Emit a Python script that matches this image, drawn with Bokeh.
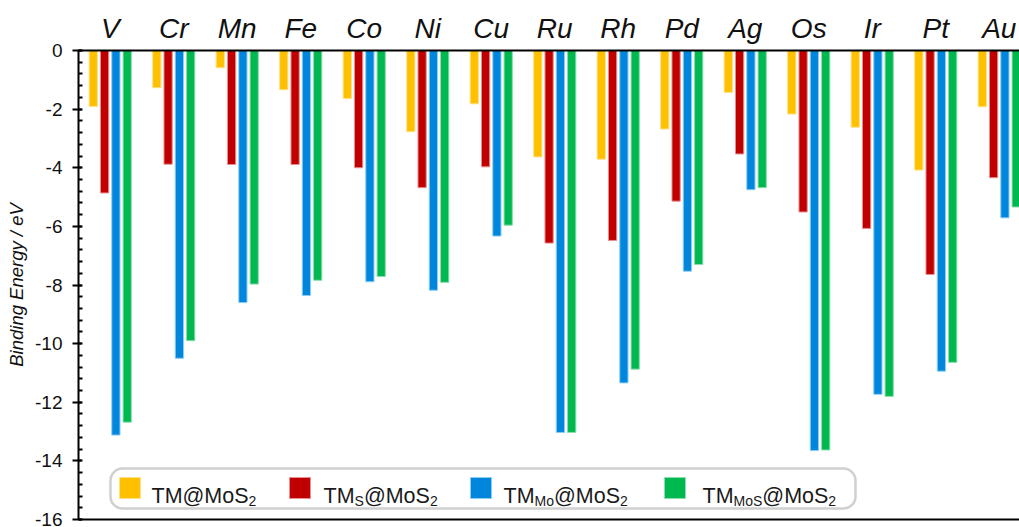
import numpy as np
from bokeh.plotting import figure
from bokeh.models import (LinearAxis, FixedTicker, SingleIntervalTicker,
                          Range1d, Label, BoxAnnotation)
from bokeh.embed import file_html
from bokeh.resources import INLINE

# ---------------- data ----------------
elements = ["V", "Cr", "Mn", "Fe", "Co", "Ni", "Cu", "Ru", "Rh", "Pd",
            "Ag", "Os", "Ir", "Pt", "Au"]
tm_mos2 = [-1.91, -1.27, -0.59, -1.34, -1.64, -2.77, -1.82, -3.63, -3.71,
           -2.68, -1.43, -2.17, -2.62, -4.08, -1.92]
tms_mos2 = [-4.86, -3.88, -3.89, -3.89, -4.00, -4.68, -3.97, -6.57, -6.48,
            -5.14, -3.53, -5.51, -6.07, -7.64, -4.34]
tmmo_mos2 = [-13.12, -10.50, -8.60, -8.36, -7.89, -8.18, -6.33, -13.03,
             -11.34, -7.53, -4.75, -13.65, -11.73, -10.94, -5.71]
tmmos_mos2 = [-12.68, -9.90, -7.97, -7.84, -7.71, -7.91, -5.96, -13.03,
              -10.87, -7.30, -4.68, -13.63, -11.80, -10.64, -5.34]
y_ticks = [0, -2, -4, -6, -8, -10, -12, -14, -16]

series = [tm_mos2, tms_mos2, tmmo_mos2, tmmos_mos2]
fills = ["#FFC000", "#C00000", "#0086DC", "#00B850"]
edges = ["#FFE08A", "#E89090", "#8CCDF2", "#8CDDAE"]

# ---------------- layout ----------------
FONT = "Liberation Sans"
W, H = 1019, 527
MB_L, MB_T, MB_B, MB_R = 78, 50, 8, 0
frame_w = W - MB_L - MB_R
frame_h = H - MB_T - MB_B
PPX = 63.5                    # pixels per category
FL, FT = MB_L, MB_T           # frame left / top on the page
PPU = frame_h / 16.0

def dx(px):
    return (px - FL) / PPX - 0.5

def dy(py):
    return -(py - FT) / PPU

p = figure(width=W, height=H,
           x_range=Range1d(-0.5, frame_w / PPX - 0.5),
           y_range=Range1d(-16, 0),
           x_axis_location="above",
           output_backend="svg", toolbar_location=None,
           min_border_left=MB_L, min_border_top=MB_T,
           min_border_bottom=MB_B, min_border_right=MB_R)
p.outline_line_color = None
p.xgrid.visible = False
p.ygrid.visible = False
p.background_fill_color = "white"
p.border_fill_color = "white"

idx = np.arange(len(elements))
pitch = 0.178
offs = [-1.5, -0.5, 0.5, 1.5]
for vals, fc, lc, o in zip(series, fills, edges, offs):
    p.vbar(x=idx + o * pitch, width=0.13, top=0, bottom=vals,
           fill_color=fc, line_color=lc, line_width=1)

# top axis with element names
ax = p.xaxis[0]
ax.ticker = FixedTicker(ticks=[int(i) for i in idx])
ax.major_label_overrides = {int(i): e for i, e in zip(idx, elements)}
ax.major_label_text_font = FONT
ax.major_label_text_font_style = "italic"
ax.major_label_text_font_size = "28px"
ax.major_label_text_color = "#111111"
ax.major_label_standoff = 1
ax.major_tick_line_color = None
ax.minor_tick_line_color = None
ax.axis_line_width = 2
ax.axis_line_color = "black"

# bottom line
bax = LinearAxis(ticker=FixedTicker(ticks=[]))
bax.major_label_text_font_size = "0px"
bax.major_tick_line_color = None
bax.minor_tick_line_color = None
bax.axis_line_width = 2
bax.axis_line_color = "black"
p.add_layout(bax, "below")

# y axis
yax = p.yaxis[0]
yax.ticker = SingleIntervalTicker(interval=2, num_minor_ticks=5)
yax.major_label_overrides = {t: str(t) for t in y_ticks}
yax.major_label_text_font = FONT
yax.major_label_text_font_size = "19px"
yax.major_label_text_color = "#111111"
yax.major_label_standoff = 10
yax.axis_line_width = 2
yax.axis_line_color = "black"
yax.major_tick_line_width = 2
yax.major_tick_line_color = "black"
yax.major_tick_out = 6
yax.major_tick_in = 3
yax.minor_tick_line_width = 2
yax.minor_tick_line_color = "black"
yax.minor_tick_out = 0
yax.minor_tick_in = 4
yax.axis_label = "Binding Energy / eV"
yax.axis_label_text_font = FONT
yax.axis_label_text_font_style = "italic"
yax.axis_label_text_font_size = "18.5px"
yax.axis_label_text_color = "#111111"
yax.axis_label_standoff = 5

# Arial-compatible advance widths (1/1000 em)
ADV = {'T': 611, 'M': 833, '@': 1015, 'o': 556, 'S': 667, '2': 556}

def tw(s, size):
    return sum(ADV[c] for c in s) * size / 1000.0

# legend
box = BoxAnnotation(left=dx(110), right=dx(855), top=dy(468), bottom=dy(508),
                    fill_color="white", fill_alpha=1.0,
                    line_color="#D0D0D0", line_alpha=1.0, line_width=2.5)
if "border_radius" in BoxAnnotation.properties():
    box.border_radius = 12
p.add_layout(box)

legend_items = [
    [("TM", "main"), ("@MoS", "main"), ("2", "sub")],
    [("TM", "main"), ("S", "sub"), ("@MoS", "main"), ("2", "sub")],
    [("TM", "main"), ("Mo", "sub"), ("@MoS", "main"), ("2", "sub")],
    [("TM", "main"), ("MoS", "sub"), ("@MoS", "main"), ("2", "sub")],
]
sq_left = [119, 289, 470, 664]
txt_left = [151, 323, 503, 702]
MAIN, SUB = 21.5, 14
for pieces, sl, tl, fc, lc in zip(legend_items, sq_left, txt_left, fills, edges):
    p.add_layout(BoxAnnotation(left=dx(sl), right=dx(sl + 21),
                               top=dy(477), bottom=dy(498),
                               fill_color=fc, fill_alpha=1.0,
                               line_color=lc, line_alpha=1.0, line_width=1))
    xpos = tl
    for txt, kind in pieces:
        size = MAIN if kind == "main" else SUB
        base = 495 if kind == "main" else 500
        p.add_layout(Label(x=dx(xpos), y=dy(base), text=txt, text_font=FONT,
                           text_font_size=f"{size}px", text_align="left",
                           text_baseline="alphabetic", text_color="#1a1a1a"))
        xpos += tw(txt, size)

open("out.html", "w").write(file_html(p, INLINE))
